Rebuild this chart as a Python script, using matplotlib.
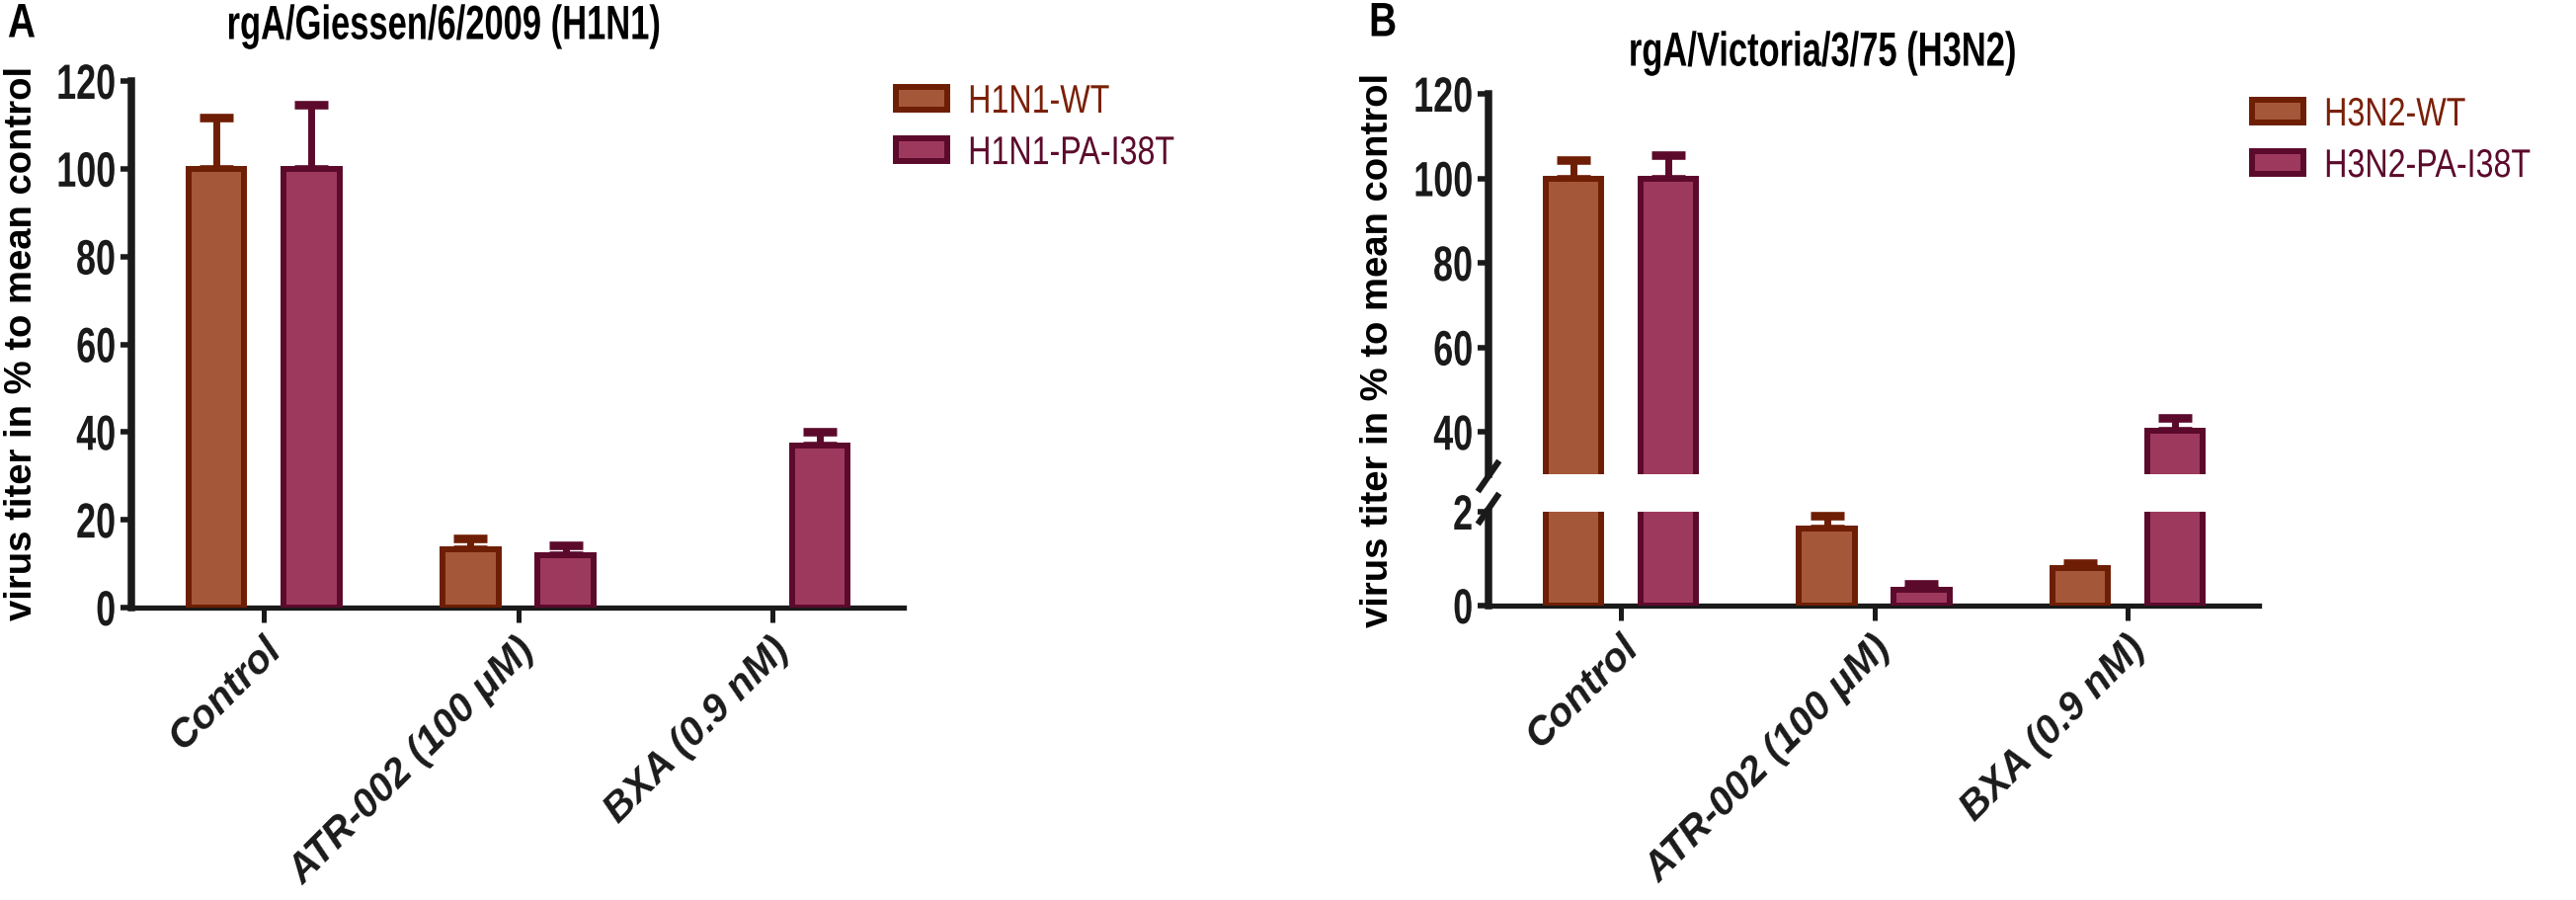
import numpy as np
import matplotlib
matplotlib.use("Agg")
import matplotlib.pyplot as plt
from matplotlib.patches import Patch
from matplotlib.lines import Line2D
from matplotlib.patheffects import AbstractPathEffect
from matplotlib.transforms import ScaledTranslation, Affine2D

# --- data ---
categories = ["Control", "ATR-002 (100 μM)", "BXA (0.9 nM)"]

a_title = "rgA/Giessen/6/2009 (H1N1)"
a_series = ["H1N1-WT", "H1N1-PA-I38T"]
a_wt = [100.0, 13.3, np.nan]
a_wt_err = [11.7, 2.5, np.nan]
a_pa = [100.0, 12.0, 37.0]
a_pa_err = [14.6, 2.2, 3.0]
a_ticks = [0, 20, 40, 60, 80, 100, 120]

b_title = "rgA/Victoria/3/75 (H3N2)"
b_series = ["H3N2-WT", "H3N2-PA-I38T"]
b_wt = [100.0, 1.65, 0.80]
b_wt_err = [4.3, 0.27, 0.11]
b_pa = [100.0, 0.33, 40.3]
b_pa_err = [5.5, 0.14, 3.0]
b_ticks_up = [40, 60, 80, 100, 120]
b_ticks_lo = [0, 2]

ylabel = "virus titer in % to mean control"

# --- style ---
fill_wt, edge_wt = "#A45739", "#6E1E04"
fill_pa, edge_pa = "#9E395E", "#5C0A2C"
txt_wt, txt_pa = "#7A2008", "#5C0A2C"
ink = "#1a1a1a"

plt.rcParams["font.family"] = ["Liberation Sans", "DejaVu Sans"]


class Squeeze(AbstractPathEffect):
    # narrows glyphs horizontally (condensed look) around a pivot
    def __init__(self, sx=0.72, pivot="center"):
        super().__init__()
        self.sx = sx
        self.pivot = pivot

    def draw_path(self, renderer, gc, tpath, affine, rgbFace=None):
        ext = tpath.get_extents()
        px = {"left": ext.x0, "center": 0.5 * (ext.x0 + ext.x1), "right": ext.x1}[self.pivot]
        t = Affine2D().translate(-px, 0).scale(self.sx, 1).translate(px, 0)
        renderer.draw_path(gc, tpath, t + affine, rgbFace)


W, H = 2608, 911
fig = plt.figure(figsize=(W / 100, H / 100), dpi=100)


def rect(x0, x1, ytop, ybot):
    return [x0 / W, 1 - ybot / H, (x1 - x0) / W, (ybot - ytop) / H]


x = np.arange(len(categories))
bw = 0.22
off = 0.187


def draw(ax, wt, wt_err, pa, pa_err):
    for dx, v, e, fc, ec in [(-off, wt, wt_err, fill_wt, edge_wt),
                             (off, pa, pa_err, fill_pa, edge_pa)]:
        ax.bar(x + dx, v, bw, color=fc, edgecolor=ec, linewidth=4.3, zorder=3)
        e = np.array(e)
        ax.errorbar(x + dx, v, yerr=[np.zeros_like(e), e], fmt="none",
                    ecolor=ec, elinewidth=5, capsize=12, capthick=6.2, zorder=2)
    ax.set_xlim(-0.522, 2.518)


def style_y(ax, ticks):
    ax.set_yticks(ticks)
    ax.tick_params(axis="y", direction="out", length=8, width=4, color=ink, pad=3)
    for lab in ax.get_yticklabels():
        lab.set_fontweight("bold")
        lab.set_fontsize(36)
        lab.set_color(ink)
        lab.set_path_effects([Squeeze(0.72, "right")])
    ax.spines["left"].set_linewidth(5.4)
    ax.spines["left"].set_color(ink)
    ax.spines["top"].set_visible(False)
    ax.spines["right"].set_visible(False)


def style_x(ax):
    ax.spines["bottom"].set_linewidth(3.8)
    ax.spines["bottom"].set_color(ink)
    ax.set_xticks(x)
    ax.set_xticklabels(categories, rotation=45, ha="right", va="top",
                       rotation_mode="anchor", fontsize=29, fontweight="bold",
                       fontstyle="italic", color=ink)
    ax.tick_params(axis="x", direction="out", length=11, width=3.6, color=ink, pad=6)
    shift = ScaledTranslation(-2 / 100, 0, fig.dpi_scale_trans)
    for lab in ax.get_xticklabels():
        lab.set_transform(lab.get_transform() + shift)


def legend(labels, x0, y0):
    handles = [Patch(facecolor=fill_wt, edgecolor=edge_wt, linewidth=4.3),
               Patch(facecolor=fill_pa, edgecolor=edge_pa, linewidth=4.3)]
    leg = fig.legend(handles, labels, loc="upper left",
                     bbox_to_anchor=(x0 / W, 1 - y0 / H), frameon=False,
                     fontsize=29, handlelength=1.3, handleheight=0.5,
                     handletextpad=0.5, labelspacing=0.35, borderpad=0,
                     borderaxespad=0)
    for t, c in zip(leg.get_texts(), [txt_wt, txt_pa]):
        t.set_color(c)
        t.set_path_effects([Squeeze(0.8, "left")])


# --- panel A ---
axA = fig.add_axes(rect(133, 915, 82, 615))
draw(axA, a_wt, a_wt_err, a_pa, a_pa_err)
axA.set_ylim(0, 120)
style_y(axA, a_ticks)
style_x(axA)
fig.text(449 / W, 1 - 27 / H, a_title, ha="center", va="center",
         fontsize=35, fontweight="bold", path_effects=[Squeeze(0.71)])
fig.text(22 / W, 1 - 25 / H, "A", ha="center", va="center", fontsize=35,
         fontweight="bold", path_effects=[Squeeze(0.8)])
fig.text(22 / W, 1 - 347 / H, ylabel, rotation=90, ha="center", va="center",
         fontsize=27.5, fontweight="bold")
legend(a_series, 907, 84)

# --- panel B (broken axis) ---
axBu = fig.add_axes(rect(1507, 2287, 95, 480))
axBl = fig.add_axes(rect(1507, 2287, 518, 613))
for ax in (axBu, axBl):
    draw(ax, b_wt, b_wt_err, b_pa, b_pa_err)
axBu.set_ylim(30, 120)
axBl.set_ylim(0, 2)
style_y(axBu, b_ticks_up)
style_y(axBl, b_ticks_lo)
axBu.spines["bottom"].set_visible(False)
axBu.set_xticks([])
style_x(axBl)

# break marks on the y axis
for yc in (482, 515):
    fig.add_artist(Line2D([(1507 - 9) / W, (1507 + 9) / W],
                          [1 - (yc + 13) / H, 1 - (yc - 13) / H],
                          color=ink, linewidth=4.5, transform=fig.transFigure))

fig.text(1845 / W, 1 - 54 / H, b_title, ha="center", va="center",
         fontsize=35, fontweight="bold", path_effects=[Squeeze(0.71)])
fig.text(1400 / W, 1 - 24 / H, "B", ha="center", va="center", fontsize=35,
         fontweight="bold", path_effects=[Squeeze(0.8)])
fig.text(1395 / W, 1 - 354 / H, ylabel, rotation=90, ha="center", va="center",
         fontsize=27.5, fontweight="bold")
legend(b_series, 2280, 97)

fig.savefig("out.png", dpi=100, facecolor="white")
